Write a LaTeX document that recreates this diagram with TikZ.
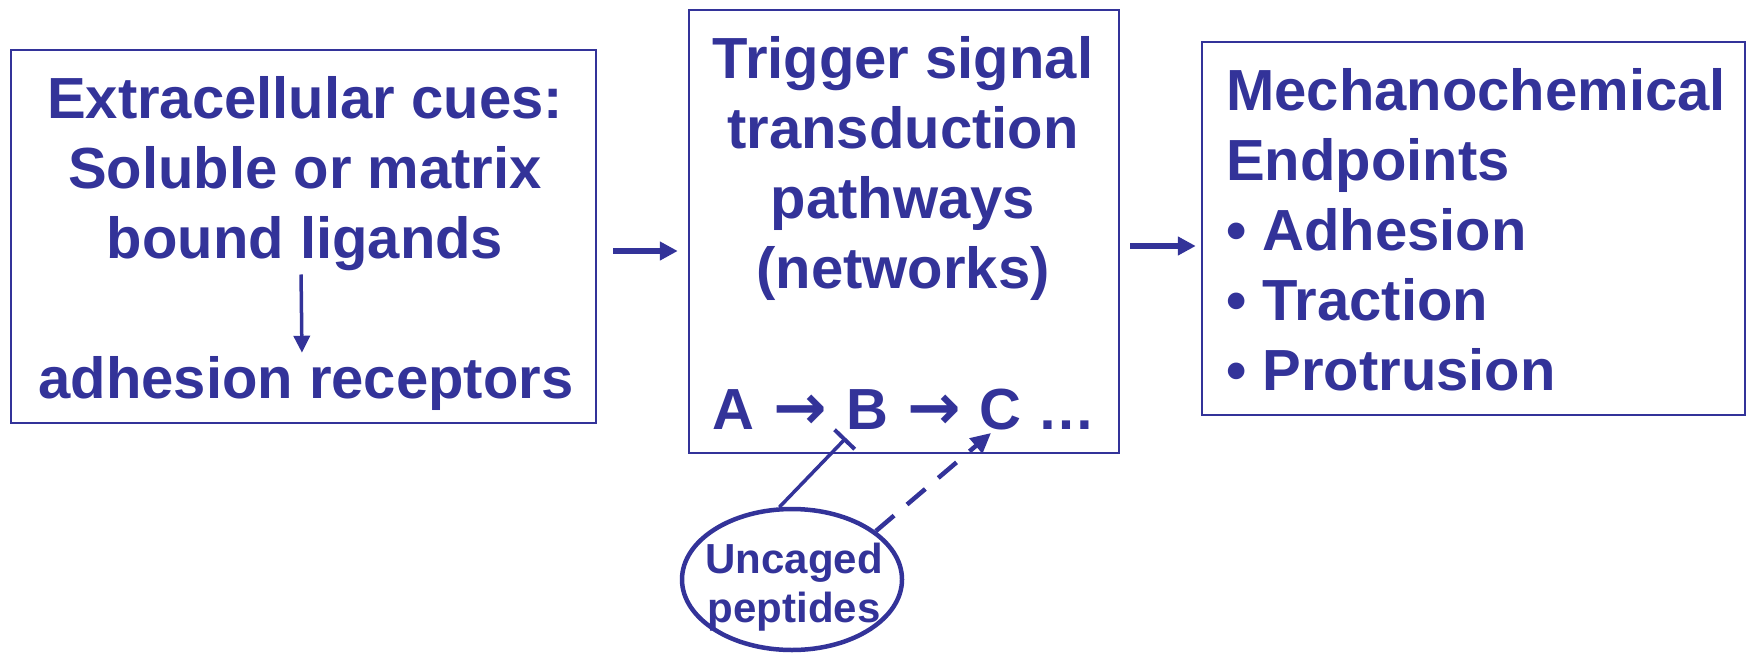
\documentclass[tikz,border=0pt]{standalone}
\usepackage{fontspec}
\setmainfont{Liberation Sans}
\newfontfamily\arrowfont{DejaVu Sans}
\usetikzlibrary{arrows.meta,shapes.geometric}
\definecolor{navy}{RGB}{51,51,153}
\newcommand{\rarr}{\hspace{3pt}{\arrowfont\bfseries\fontsize{64}{70}\selectfont →}\hspace{3pt}}
\tikzset{
  box/.style={draw=navy, line width=2.5pt, rectangle, inner sep=0pt},
  txt/.style={text=navy, inner sep=0pt, font=\fontsize{58}{70}\selectfont\bfseries},
  smalltxt/.style={text=navy, inner sep=0pt, font=\fontsize{42}{49}\selectfont\bfseries},
  bigarrow/.style={draw=navy, line width=5.5pt, -{Triangle[length=18pt,width=18pt]}},
  smallarrow/.style={draw=navy, line width=3.5pt, -{Triangle[length=17pt,width=16pt]}},
  inhib/.style={draw=navy, line width=3.5pt, -{Bar[width=28pt,line width=4pt]}},
  dasharrow/.style={draw=navy, line width=4.5pt, dash pattern=on 24pt off 17pt, -{Triangle[length=20pt,width=19pt]}},
  oval/.style={draw=navy, line width=4.5pt, ellipse, inner sep=0pt},
}
\begin{document}
\begin{tikzpicture}[x=1pt,y=-1pt]
\useasboundingbox (0,0) rectangle (1747,653);
% boxes
\node[box, minimum width=585pt, minimum height=373pt] (lbox) at (303.5,236.5) {};
\node[box, minimum width=430pt, minimum height=443pt] (mbox) at (904,231.5) {};
\node[box, minimum width=543pt, minimum height=373pt] (rbox) at (1473.5,228.5) {};
% left box texts
\node[txt, align=center, anchor=base] (lig) at (305,258) {Extracellular cues:\\Soluble or matrix\\bound ligands};
\node[txt, anchor=base] (rec) at (306,398) {adhesion receptors};
\draw[smallarrow, shorten <=4pt, shorten >=3pt] ([xshift=-4pt]lig.south) -- ([xshift=-4pt]rec.north);
% middle box texts
\node[txt, align=center, anchor=base] (trig) at (903,288) {Trigger signal\\transduction\\pathways\\(networks)};
\node[txt, anchor=base] (abc) at (904,429) {A \rarr{} B \rarr{} C …};
% right box text
\node[txt, align=left, anchor=base west] (mech) at (1226,390) {Mechanochemical\\Endpoints\\• Adhesion\\• Traction\\• Protrusion};
% arrows between boxes
\coordinate (ya) at (0,251);
\coordinate (yb) at (0,246);
\draw[bigarrow, shorten <=16pt, shorten >=10pt] (lbox.east |- ya) -- (mbox.west |- ya);
\draw[bigarrow, shorten <=10pt, shorten >=5pt] (mbox.east |- yb) -- (rbox.west |- yb);
% uncaged peptides
\node[oval, minimum width=220pt, minimum height=141pt] (ell) at (792,579.5) {};
\node[smalltxt, align=center, anchor=base] (pep) at (794,622) {Uncaged\\peptides};
\coordinate (binh) at (846,438);
\coordinate (cact) at (991,433);
\draw[inhib] (ell.100) -- (binh);
\draw[dasharrow] (ell.30) -- (cact);
\end{tikzpicture}
\end{document}
